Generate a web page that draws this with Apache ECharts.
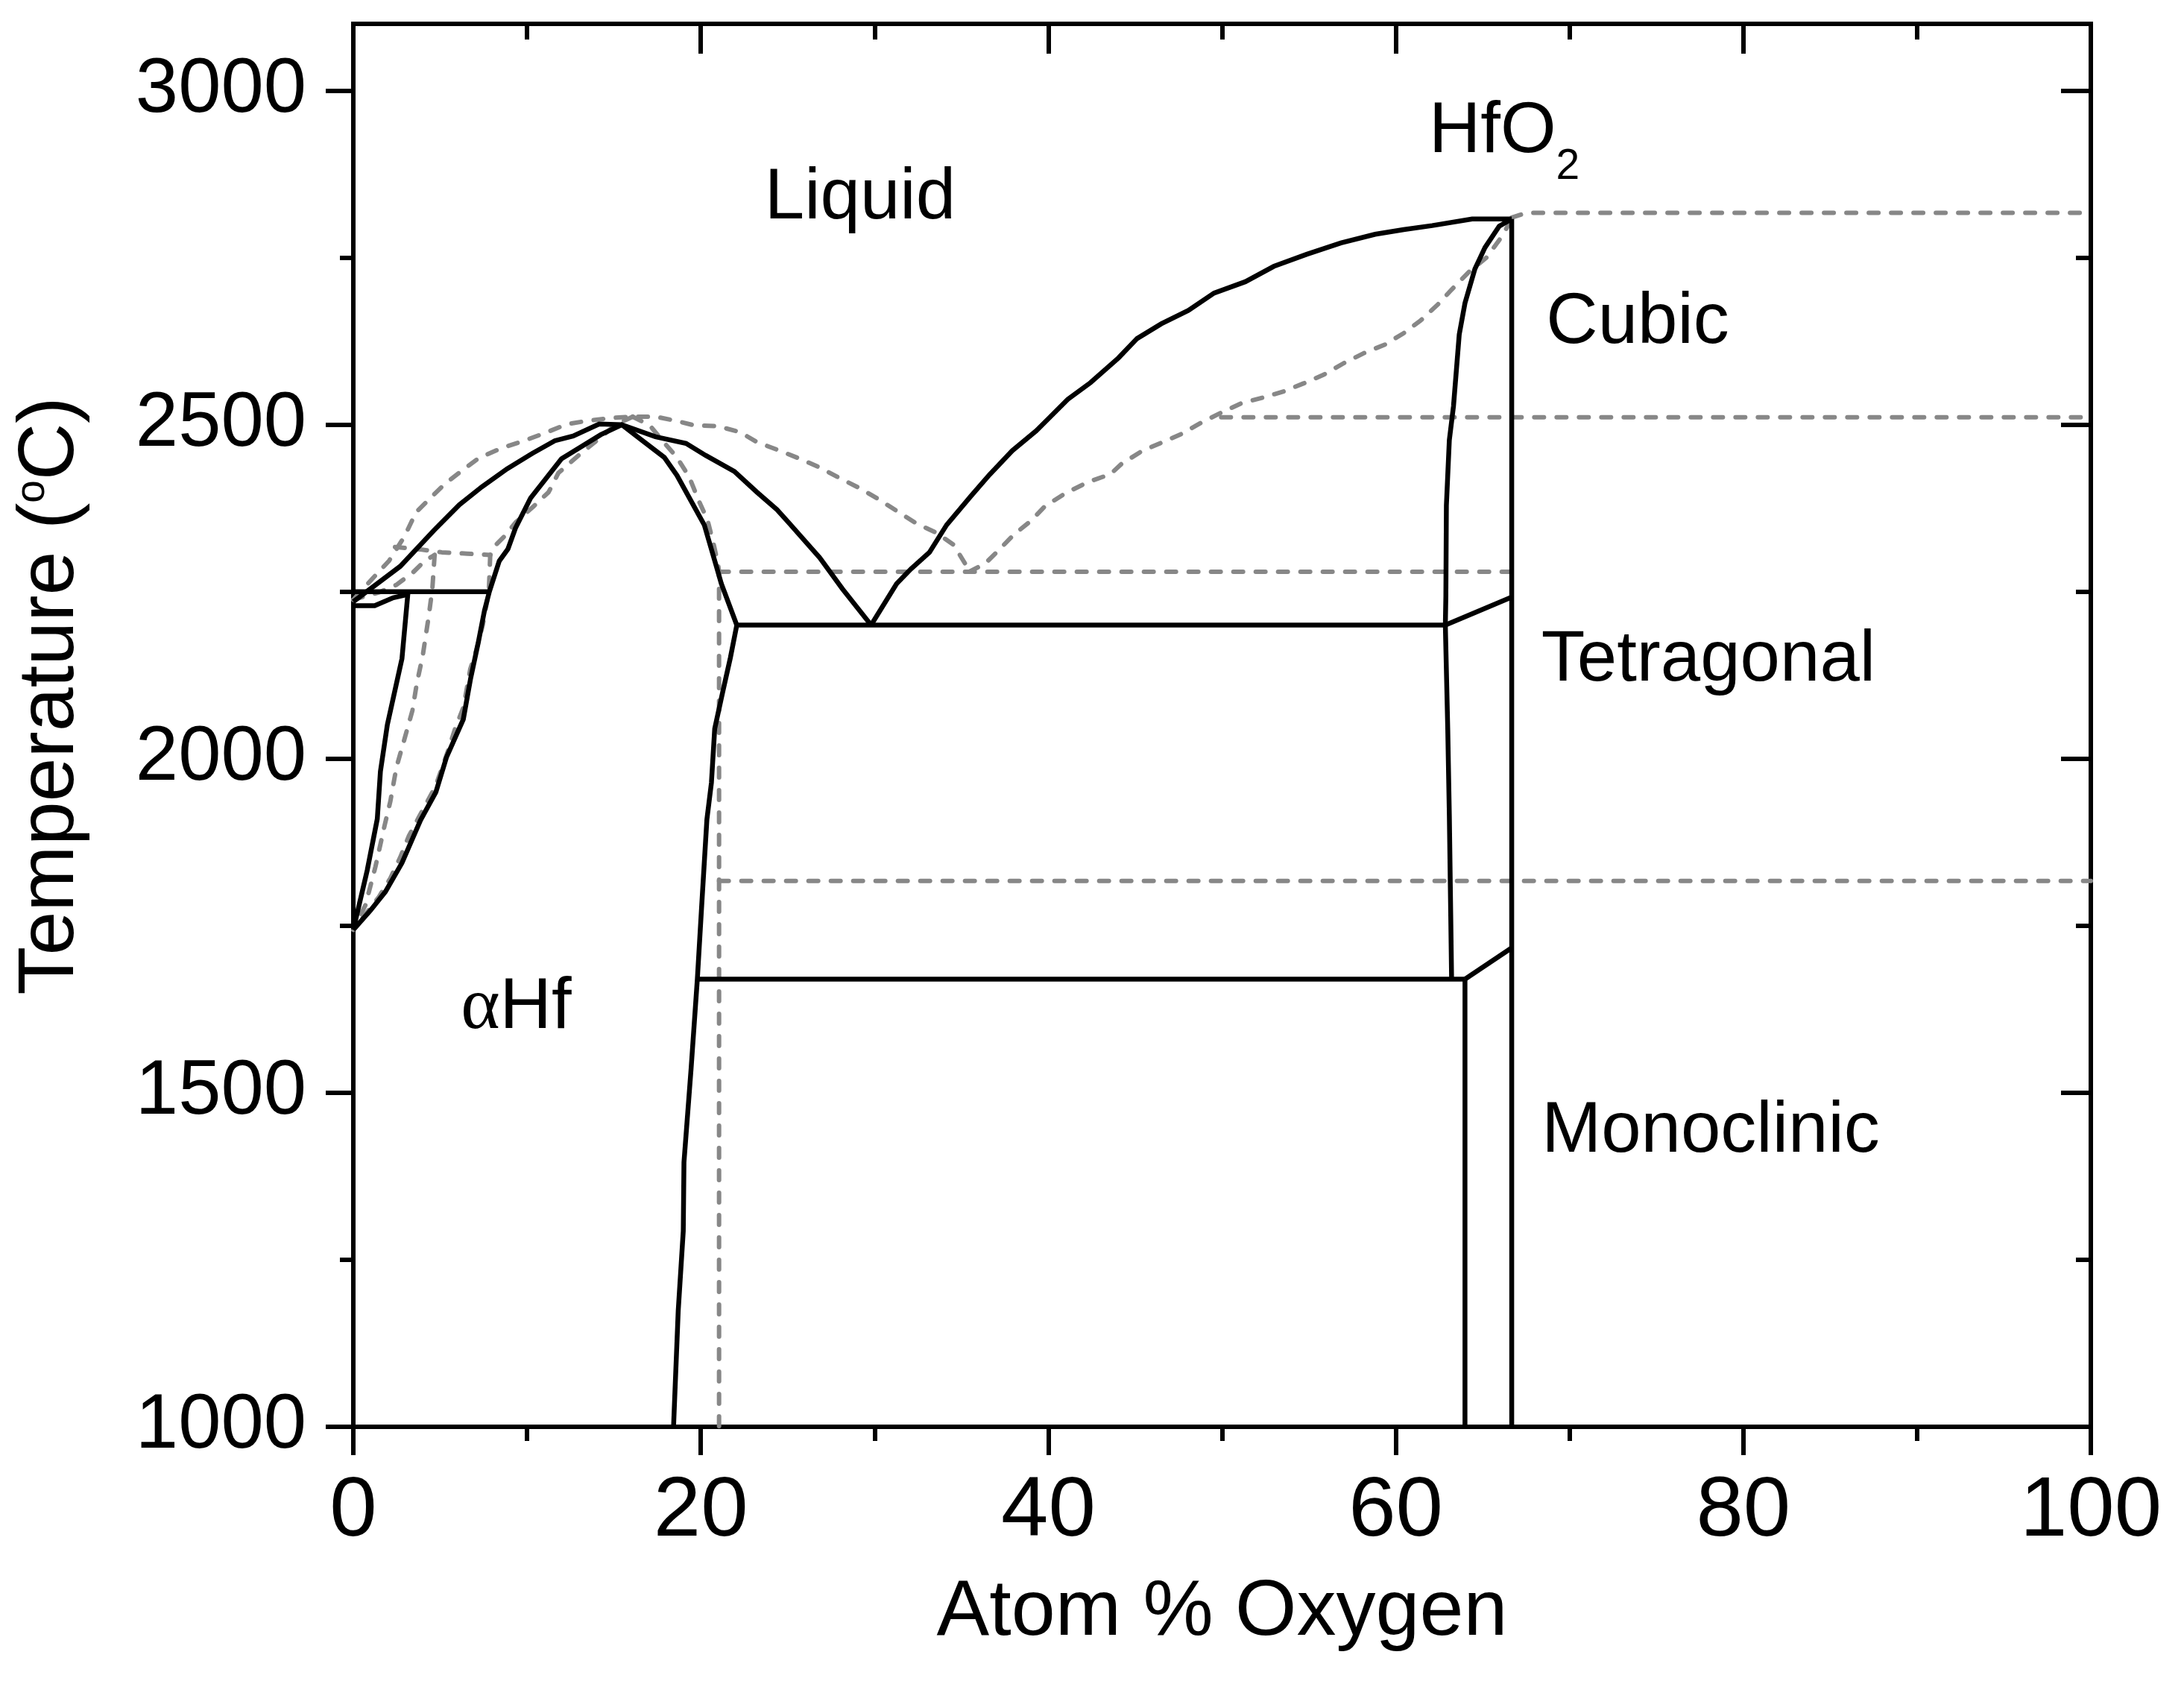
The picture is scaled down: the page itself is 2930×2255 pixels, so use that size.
<!DOCTYPE html>
<html>
<head>
<meta charset="utf-8">
<script src="https://cdn.jsdelivr.net/npm/echarts@6.0.0/dist/echarts.min.js"></script>
<style>
html,body{margin:0;padding:0;background:#fff;}
#chart{width:2930px;height:2255px;}
</style>
</head>
<body>
<div id="chart"></div>
<script>
// ---------- tick values ----------
const xMajorTicks = [0, 20, 40, 60, 80, 100];
const xMinorTicks = [10, 30, 50, 70, 90];
const yMajorTicks = [1000, 1500, 2000, 2500, 3000];
const yMinorTicks = [1250, 1750, 2250, 2750];

// ---------- solid (experimental) phase boundaries: [at.% O, T °C] ----------
const liquidusLeft = [[0,2235],[2.7,2288],[4.65,2342],[6.1,2380],[7.4,2407],[8.85,2434],[10.3,2457],[11.6,2476],[12.65,2483],[14.15,2501],[15.45,2500]];
const liquidusMid = [[15.45,2500],[17.39,2482],[19.15,2472],[20.28,2454],[21.93,2430],[23.23,2399],[24.38,2373],[25.04,2354],[26.84,2301],[28.16,2254],[29.8,2200]];
const liquidusRight = [[29.8,2200],[31.27,2262],[32.09,2284],[33.16,2309],[34.15,2350],[35.54,2393],[36.61,2425],[37.92,2461],[39.31,2491],[39.97,2508],[41.12,2538],[42.43,2563],[44.04,2600],[45.11,2629],[46.5,2651],[48.06,2671],[49.54,2697],[51.34,2714],[52.98,2737],[54.87,2755],[56.84,2772],[58.81,2785],[60.45,2792],[62.09,2798],[64.39,2808],[66.67,2808]];
const alphaHfBoundary = [[0,1744],[0.99,1773],[1.85,1801],[2.8,1844],[3.87,1908],[4.75,1950],[5.36,2002],[6.33,2059],[6.75,2120],[7.2,2175],[7.55,2222],[7.83,2250],[8.4,2296],[8.9,2314],[9.33,2345],[10.2,2390],[11.98,2449],[14.24,2485],[15.45,2500],[16.6,2477],[17.9,2451],[18.63,2424],[20.2,2350],[20.85,2292],[21.18,2262],[22.07,2200],[21.7,2151],[21.26,2100],[20.8,2045],[20.61,1964],[20.35,1909],[20.05,1780],[19.8,1670],[19.44,1536],[19.03,1396],[18.99,1293],[18.7,1174],[18.43,1000]];
const betaHfLine = [[0,2229],[1.23,2229],[2.3,2241],[3.15,2246]];
const solvusLeft = [[3.15,2250],[2.8,2150],[1.96,2051],[1.56,1981],[1.38,1910],[0.8,1833],[0,1744]];
const peritecticLine = [[0,2250],[7.83,2250]];
const eutecticLine = [[22.07,2200],[62.85,2200]];
const tetraCubicLine = [[62.85,2200],[66.67,2242]];
const eutectoidLine = [[19.8,1670],[63.98,1670]];
const monoTetraLine = [[63.98,1670],[66.67,1717]];
const hfo2xLower = [[63.98,1670],[63.98,1000]];
const hfo2Line = [[66.67,1000],[66.67,2808]];
const hfo2xBoundary = [[66.67,2808],[65.95,2797],[65.13,2765],[64.55,2733],[63.98,2682],[63.65,2635],[63.32,2528],[63.08,2477],[62.91,2379],[62.88,2243],[62.85,2200],[62.99,2043],[63.08,1915],[63.16,1766],[63.21,1670]];

// ---------- dashed (calculated) phase boundaries ----------
const calcLiquidusA = [[0,2238],[1.15,2271],[2.05,2296],[2.95,2333],[3.61,2369],[4.43,2390],[5.25,2411],[6.24,2431],[7.22,2450],[8.53,2465],[9.84,2476],[11.07,2488],[12.31,2501],[13.29,2505],[14.77,2510],[16.08,2512],[17.39,2512],[18.71,2505],[19.62,2499],[20.94,2498],[22.25,2489],[23.23,2474],[24.55,2461],[25.7,2449],[26.84,2436],[27.99,2420],[29.14,2405],[30.13,2390],[31.27,2371],[32.42,2352],[33.57,2338],[34.56,2320],[35.21,2292],[35.45,2280]];
const calcLiquidusB = [[35.45,2280],[36.36,2292],[37.02,2309],[38.0,2335],[38.99,2356],[39.81,2378],[40.96,2397],[42.27,2414],[43.58,2426],[44.2,2441],[45.35,2460],[46.5,2473],[47.65,2486],[48.8,2503],[49.95,2518],[51.1,2532],[52.41,2541],[53.56,2550],[54.71,2562],[55.86,2575],[57.0,2592],[58.15,2607],[59.38,2620],[60.45,2637],[61.43,2656],[62.42,2680],[63.24,2703],[64.22,2729],[65.21,2750],[66.11,2782],[66.67,2808]];
const calcTop = [[66.67,2810],[67.5,2817],[100,2817]];
const calc2511 = [[49.95,2511],[100,2511]];
const calc2280 = [[21.05,2280],[66.67,2280]];
const calc1817 = [[21.05,1817],[100,1817]];
const calcAlphaRight = [[16.08,2512],[17.06,2499],[17.89,2473],[18.6,2452],[19.33,2422],[19.9,2385],[20.38,2358],[20.75,2320],[21.0,2290],[21.05,2280],[21.05,1000]];
const calcAlphaUpper = [[16.08,2512],[15.1,2500],[13.95,2475],[12.96,2454],[11.81,2428],[11.24,2399],[10.34,2377],[9.35,2354],[8.7,2333],[8.2,2320],[7.88,2305]];
const calcPeritectic = [[2.4,2317],[3.94,2313],[5.09,2309],[6.56,2307],[7.88,2305]];
const calcAlphaLower = [[7.88,2305],[7.8,2250],[7.45,2200],[7.05,2160],[6.73,2134],[6.34,2077],[5.87,2046],[5.49,2015],[5.1,1986],[4.72,1958],[4.24,1935],[3.76,1912],[3.19,1884],[2.71,1853],[2.13,1821],[1.47,1793],[0.7,1767],[0,1744]];
const calcBeta = [[0,2238],[1.48,2249],[2.46,2260],[3.44,2279],[4.1,2296],[4.68,2305]];
const calcSolvus = [[4.68,2305],[4.55,2255],[4.35,2215],[4.0,2155],[3.65,2112],[3.4,2072],[2.95,2030],[2.48,1987],[2.13,1936],[1.8,1900],[1.27,1838],[0.7,1781],[0,1744]];

// ---------- region labels ----------
const labelTexts = ['Liquid', '{h|HfO}{sub|2}', 'Cubic', 'Tetragonal', 'Monoclinic', '{g|α}{a|Hf}'];
const labelX = [29.17, 61.9, 73.92, 77.99, 78.12, 9.37];
const labelY = [2838, 2991, 2652, 2146, 1441, 1626];

const solidLines = [liquidusLeft, liquidusMid, liquidusRight, alphaHfBoundary, betaHfLine, solvusLeft,
  peritecticLine, eutecticLine, tetraCubicLine, eutectoidLine, monoTetraLine, hfo2xLower, hfo2Line, hfo2xBoundary];
const dashedLines = [calcLiquidusA, calcLiquidusB, calcTop, calc2511, calc2280, calc1817, calcAlphaRight,
  calcAlphaUpper, calcPeritectic, calcAlphaLower, calcBeta, calcSolvus];

const FONT = 'Liberation Sans, Arial, sans-serif';
const chart = echarts.init(document.getElementById('chart'));

function lineSeries(data, dashed) {
  return {
    type: 'line', data: data, xAxisIndex: 0, yAxisIndex: 0,
    symbol: 'none', smooth: false, silent: true, z: dashed ? 2 : 3,
    lineStyle: dashed
      ? {color: '#878787', width: 6, type: [13, 17], cap: 'round', join: 'round'}
      : {color: '#000000', width: 6.5, type: 'solid', cap: 'butt', join: 'miter', miterLimit: 6}
  };
}

const series = [];
dashedLines.forEach(d => series.push(lineSeries(d, true)));
solidLines.forEach(d => series.push(lineSeries(d, false)));

const labelStyle = {color: '#000000', textBorderWidth: 0, opacity: 1};

series.push({
  type: 'scatter', xAxisIndex: 0, yAxisIndex: 0, symbol: 'circle', symbolSize: 0, silent: true, z: 5,
  itemStyle: {color: '#000000'},
  emphasis: {disabled: true},
  data: labelX.map((x, i) => {
    const item = {value: [x, labelY[i]]};
    if (i === 1) item.label = {align: 'left', verticalAlign: 'top'};
    return item;
  }),
  label: Object.assign({
    show: true, position: 'top', distance: 0, align: 'center', verticalAlign: 'middle',
    fontFamily: FONT, fontSize: 96,
    formatter: p => labelTexts[p.dataIndex],
    rich: {
      h: Object.assign({fontFamily: FONT, fontSize: 96, lineHeight: 96, verticalAlign: 'top'}, labelStyle),
      sub: Object.assign({fontFamily: FONT, fontSize: 57, lineHeight: 57, padding: [66, 0, 0, 0], verticalAlign: 'top'}, labelStyle),
      g: Object.assign({fontFamily: 'Liberation Serif, Times New Roman, serif', fontSize: 100}, labelStyle),
      a: Object.assign({fontFamily: FONT, fontSize: 96}, labelStyle)
    }
  }, labelStyle)
});

const axisLineStyle = {color: '#000', width: 6, cap: 'square'};
const tickLine = {color: '#000', width: 6};

function xAx(position, major, showLine, inside, len, labels) {
  const ax = {
    type: 'value', position: position, min: 0, max: 100, interval: major ? 20 : 10,
    axisLine: {show: showLine, onZero: false, lineStyle: axisLineStyle},
    axisTick: {show: true, inside: inside, length: len, lineStyle: tickLine, customValues: major ? xMajorTicks : xMinorTicks},
    axisLabel: {show: !!labels},
    splitLine: {show: false}, minorTick: {show: false}
  };
  if (labels) {
    ax.axisLabel = {show: true, margin: 58, fontSize: 114, color: '#000', fontFamily: FONT,
      customValues: xMajorTicks, formatter: v => String(v)};
    ax.name = 'Atom % Oxygen';
    ax.nameLocation = 'middle';
    ax.nameGap = 197;
    ax.nameTextStyle = {fontSize: 106, color: '#000', fontFamily: FONT};
  }
  return ax;
}
function yAx(position, major, showLine, inside, len, labels) {
  const ax = {
    type: 'value', position: position, min: 1000, max: 3100, interval: major ? 500 : 250,
    axisLine: {show: showLine, onZero: false, lineStyle: axisLineStyle},
    axisTick: {show: true, inside: inside, length: len, lineStyle: tickLine, customValues: major ? yMajorTicks : yMinorTicks},
    axisLabel: {show: !!labels},
    splitLine: {show: false}, minorTick: {show: false}
  };
  if (labels) {
    ax.axisLabel = {show: true, margin: 63, fontSize: 103, color: '#000', fontFamily: FONT,
      customValues: yMajorTicks, padding: [0, 0, 12, 0], formatter: v => String(v)};
    ax.name = '{a|Temperature (}{s|o}{a|C)}';
    ax.nameLocation = 'middle';
    ax.nameRotate = 90;
    ax.nameGap = 352;
    ax.nameTextStyle = {
      color: '#000', fontFamily: FONT, fontSize: 106, padding: [0, 0, 0, 79],
      rich: {
        a: {fontFamily: FONT, fontSize: 106, lineHeight: 106, verticalAlign: 'top', color: '#000'},
        s: {fontFamily: FONT, fontSize: 55, lineHeight: 30, verticalAlign: 'top', color: '#000'}
      }
    };
  }
  return ax;
}

chart.setOption({
  animation: false,
  backgroundColor: '#ffffff',
  grid: {left: 474, right: 125, top: 32, bottom: 341, containLabel: false},
  xAxis: [
    xAx('bottom', true, true, false, 38, true),
    xAx('bottom', false, false, false, 19, false),
    xAx('top', true, true, true, 40, false),
    xAx('top', false, false, true, 21, false)
  ],
  yAxis: [
    yAx('left', true, true, false, 37, true),
    yAx('left', false, false, false, 18, false),
    yAx('right', true, true, true, 40, false),
    yAx('right', false, false, true, 20, false)
  ],
  series: series
});
</script>
</body>
</html>
